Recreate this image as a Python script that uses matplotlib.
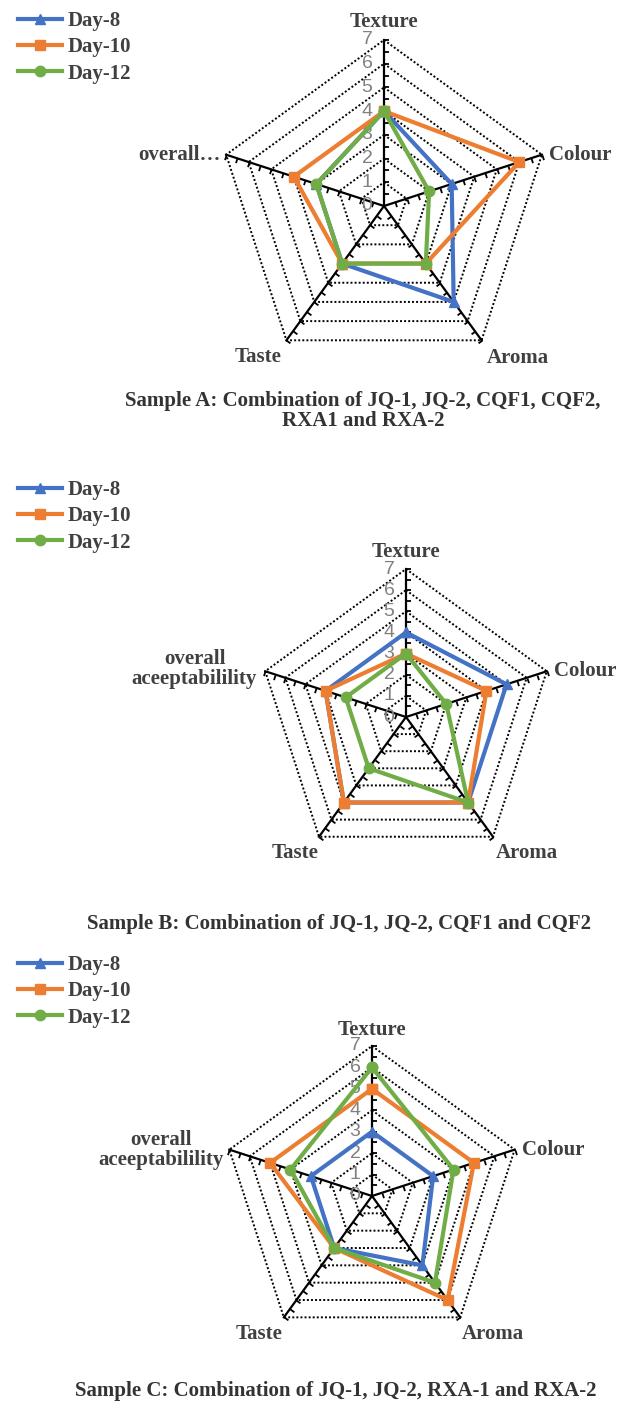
import numpy as np
import matplotlib
matplotlib.use("Agg")
import matplotlib.pyplot as plt
from matplotlib.markers import MarkerStyle
from matplotlib.path import Path
from matplotlib.transforms import Affine2D

# ---- data (sensory scores, 0-7 scale) ----
attributes = ["Texture", "Colour", "Aroma", "Taste", "overall acceptability"]
days = ["Day-8", "Day-10", "Day-12"]

sample_a_day8 = [4, 3, 5, 3, 3]
sample_a_day10 = [4, 6, 3, 3, 4]
sample_a_day12 = [4, 2, 3, 3, 3]

sample_b_day8 = [4, 5, 5, 5, 4]
sample_b_day10 = [3, 4, 5, 5, 4]
sample_b_day12 = [3, 2, 5, 3, 3]

sample_c_day8 = [3, 3, 4, 3, 3]
sample_c_day10 = [5, 5, 6, 3, 5]
sample_c_day12 = [6, 4, 5, 3, 4]

titles = [
    "Sample A: Combination of JQ-1, JQ-2, CQF1, CQF2,\nRXA1 and RXA-2",
    "Sample B: Combination of JQ-1, JQ-2, CQF1 and CQF2",
    "Sample C: Combination of JQ-1, JQ-2, RXA-1 and RXA-2",
]
overall_labels = ["overall\u2026", "overall\naceeptabilility", "overall\naceeptabilility"]
scale_max = 7

colors = ["#4472C4", "#ED7D31", "#70AD47"]
markers = ["^", "s", "o"]
serif = "Liberation Serif"
text_col = "#404040"

W, H = 624, 1410
fig = plt.figure(figsize=(W / 100, H / 100), dpi=100)


def radar(cx, cy, R, series, labels, label_offsets, legend_top, title, title_xy):
    ax = fig.add_axes([(cx - R) / W, (H - cy - R) / H, 2 * R / W, 2 * R / H],
                      projection="polar")
    ax.set_theta_offset(np.pi / 2)
    ax.set_theta_direction(-1)
    ax.set_ylim(0, scale_max)
    ax.grid(False)
    ax.spines["polar"].set_visible(False)
    ax.set_xticks([])
    ax.set_yticks([])
    ax.patch.set_visible(False)

    n = len(labels)
    angles = np.linspace(0, 2 * np.pi, n, endpoint=False)
    closed = np.append(angles, angles[0])

    # dotted pentagon gridlines
    for r in range(1, scale_max + 1):
        ax.plot(closed, [r] * (n + 1), color="black", lw=1.4, ls=(0, (1, 1.1)),
                zorder=1, clip_on=False)

    # spokes with one-sided tick marks
    tick_rot = [0, -72, -144, -36, -108]
    tick_r = np.arange(0.5, scale_max + 0.01, 0.5)
    for a, rot in zip(angles, tick_rot):
        ax.plot([a, a], [0, scale_max], color="black", lw=1.6, zorder=2, clip_on=False)
        mk = MarkerStyle(Path([(0, 0), (1, 0)]), transform=Affine2D().rotate_deg(rot))
        ax.plot([a] * len(tick_r), tick_r, ls="none", marker=mk, ms=7,
                mec="black", mfc="none", mew=1.3, zorder=2, clip_on=False)

    # value labels along Texture axis
    for r in range(0, scale_max + 1):
        ax.annotate(str(r), xy=(0, r), xytext=(-17, 0), textcoords="offset pixels",
                    ha="center", va="center", fontsize=14, color="#808080",
                    family="Liberation Sans", zorder=3)

    # data series
    handles = []
    for vals, lab, c, m in zip(series, days, colors, markers):
        v = np.append(vals, vals[0])
        h, = ax.plot(closed, v, color=c, lw=3, marker=m, ms=7.5, mec=c, mfc=c,
                     zorder=4, clip_on=False, label=lab)
        handles.append(h)

    # category labels
    for a, lab, (dx, dy, ha) in zip(angles, labels, label_offsets):
        ax.annotate(lab, xy=(a, scale_max), xytext=(dx, dy), textcoords="offset pixels",
                    ha=ha, va="center", multialignment="center", fontsize=15,
                    fontweight="bold", family=serif, color=text_col, linespacing=1.0)

    fig.legend(handles=handles, loc="upper left",
               bbox_to_anchor=(18 / W, 1 - legend_top / H), frameon=False,
               prop={"family": serif, "weight": "bold", "size": 15},
               labelcolor=text_col, handlelength=2.1, handletextpad=0.3,
               labelspacing=0.3, borderpad=0, borderaxespad=0)

    fig.text(title_xy[0] / W, 1 - title_xy[1] / H, title, ha="center", va="center",
             fontsize=15, fontweight="bold", family=serif, color="#333333",
             linespacing=0.95)


radar(384, 206, 166,
      [sample_a_day8, sample_a_day10, sample_a_day12],
      ["Texture", "Colour", "Aroma", "Taste", overall_labels[0]],
      [(0, 18, "center"), (7, 0, "left"), (5, -18, "left"), (-5, -17, "right"),
       (-5, 0, "right")],
      11, titles[0], (363, 411))

radar(406, 717, 148,
      [sample_b_day8, sample_b_day10, sample_b_day12],
      ["Texture", "Colour", "Aroma", "Taste", overall_labels[1]],
      [(0, 17, "center"), (7, 0, "left"), (3, -16, "left"), (-1, -16, "right"),
       (-8, 2, "right")],
      480, titles[1], (339, 924))

radar(372, 1196, 150,
      [sample_c_day8, sample_c_day10, sample_c_day12],
      ["Texture", "Colour", "Aroma", "Taste", overall_labels[2]],
      [(0, 16, "center"), (7, 0, "left"), (2, -17, "left"), (-1, -17, "right"),
       (-6, 0, "right")],
      955, titles[2], (336, 1391))

fig.savefig("out.png", dpi=100)
